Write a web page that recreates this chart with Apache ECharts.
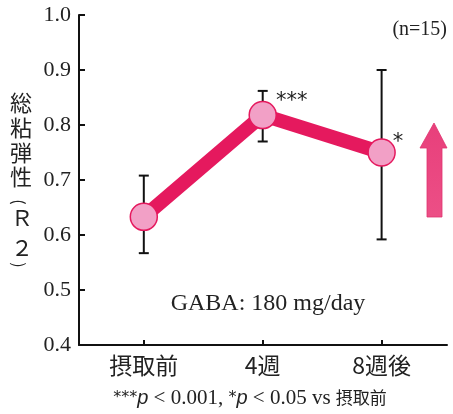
<!DOCTYPE html>
<html><head><meta charset="utf-8">
<script src="https://cdn.jsdelivr.net/npm/echarts@6/dist/echarts.min.js"></script>
<style>html,body{margin:0;padding:0;background:#fff}#c{width:453px;height:414px}</style>
</head><body><div id="c"></div>
<script>
// ---- data ----
const categories = ['摂取前', '4週', '8週後'];
const meanValues = [0.633, 0.818, 0.750];
const errLow = [0.567, 0.770, 0.592];
const errHigh = [0.708, 0.862, 0.900];
const sigMarks = ['', '***', '*'];
const yMin = 0.4, yMax = 1.0, yStep = 0.1;

// ---- styles ----
const LINE_COLOR = '#E5195E';
const FILL_COLOR = '#F2A0C6';
const sigOffsets = [[0, 0], [-1, -14], [-3, -10]];

const chart = echarts.init(document.getElementById('c'), null, {renderer: 'canvas'});

const catIdx = categories.map((_, i) => i);
const lineData = meanValues.map((v, i) => ({
  value: [i, v],
  label: {show: !!sigMarks[i], formatter: sigMarks[i], offset: sigOffsets[i]}
}));
const errData = categories.map((_, i) => [i, errLow[i], errHigh[i]]);

const yNameFont = {fontFamily: 'Noto Sans CJK JP', fontSize: 22, fill: '#222'};
const parenFont = {fontFamily: 'Noto Sans CJK JP', fontSize: 16, fill: '#222'};

const option = {
  animation: false,
  backgroundColor: '#fff',
  grid: {left: 79, right: 6, top: 15, bottom: 69, containLabel: false},
  xAxis: {
    type: 'value', min: -0.545, max: 2.55,
    splitLine: {show: false},
    axisLine: {show: true, onZero: false, lineStyle: {color: '#111', width: 2}},
    axisTick: {show: true, inside: true, length: 5, lineStyle: {color: '#111', width: 2}, customValues: catIdx},
    axisLabel: {
      customValues: catIdx, margin: 9,
      formatter: v => categories[Math.round(v)] || '',
      fontFamily: 'Noto Sans CJK JP', fontSize: 23, color: '#222'
    }
  },
  yAxis: {
    type: 'value', min: yMin, max: yMax, interval: yStep,
    splitLine: {show: false},
    axisLine: {show: true, onZero: false, lineStyle: {color: '#111', width: 2}},
    axisTick: {show: true, inside: true, length: 6, lineStyle: {color: '#111', width: 2}},
    axisLabel: {
      margin: 8, formatter: v => v.toFixed(1),
      fontFamily: 'Liberation Serif', fontSize: 22, color: '#222'
    }
  },
  series: [
    {
      type: 'custom', z: 1,
      data: errData,
      encode: {x: 0, y: [1, 2]},
      renderItem: function (params, api) {
        const x = api.value(0);
        const lo = api.coord([x, api.value(1)]);
        const hi = api.coord([x, api.value(2)]);
        const cap = 5;
        const st = {stroke: '#111', lineWidth: 2};
        return {
          type: 'group',
          children: [
            {type: 'line', shape: {x1: lo[0], y1: lo[1], x2: hi[0], y2: hi[1]}, style: st},
            {type: 'line', shape: {x1: lo[0] - cap, y1: lo[1], x2: lo[0] + cap, y2: lo[1]}, style: st},
            {type: 'line', shape: {x1: hi[0] - cap, y1: hi[1], x2: hi[0] + cap, y2: hi[1]}, style: st}
          ]
        };
      }
    },
    {
      type: 'line', z: 2,
      data: lineData,
      symbol: 'circle', symbolSize: 27,
      lineStyle: {color: LINE_COLOR, width: 14, join: 'round'},
      itemStyle: {color: FILL_COLOR, borderColor: LINE_COLOR, borderWidth: 1.5},
      label: {
        show: false, position: 'right', distance: 0,
        fontFamily: 'DejaVu Sans', fontSize: 21, color: '#222'
      }
    }
  ],
  graphic: [
    {
      type: 'text', x: 21, y: 90.6,
      style: Object.assign({text: '総\n粘\n弾\n性', lineHeight: 24.7, align: 'center', verticalAlign: 'top'}, yNameFont)
    },
    {
      type: 'text', x: 19, y: 202, rotation: -Math.PI / 2,
      style: Object.assign({text: '(', align: 'center', verticalAlign: 'middle'}, parenFont)
    },
    {
      type: 'text', x: 22, y: 217.5,
      style: Object.assign({text: 'Ｒ', align: 'center', verticalAlign: 'middle'}, yNameFont)
    },
    {
      type: 'text', x: 22, y: 248,
      style: Object.assign({text: '２', align: 'center', verticalAlign: 'middle'}, yNameFont)
    },
    {
      type: 'text', x: 19, y: 265, rotation: -Math.PI / 2,
      style: Object.assign({text: ')', align: 'center', verticalAlign: 'middle'}, parenFont)
    },
    {
      type: 'text', x: 447, y: 30,
      style: {text: '(n=15)', fontFamily: 'Liberation Serif', fontSize: 20,
        fill: '#222', align: 'right', verticalAlign: 'middle'}
    },
    {
      type: 'text', x: 268, y: 303.5,
      style: {text: 'GABA: 180 mg/day', fontFamily: 'Liberation Serif', fontSize: 24,
        fill: '#222', align: 'center', verticalAlign: 'middle'}
    },
    {
      type: 'text', x: 250, y: 398,
      style: {
        text: '{s|***}{i|p}{n| < 0.001, }{s|*}{i|p}{n| < 0.05 vs }{j|摂取前}',
        align: 'center', verticalAlign: 'middle',
        rich: {
          s: {fontFamily: 'DejaVu Sans', fontSize: 16, fill: '#222'},
          i: {fontFamily: 'Liberation Sans', fontStyle: 'italic', fontSize: 20, fill: '#222'},
          n: {fontFamily: 'Liberation Serif', fontSize: 21, fill: '#222'},
          j: {fontFamily: 'Noto Sans CJK JP', fontSize: 17, fill: '#222'}
        }
      }
    },
    {
      type: 'polygon',
      shape: {points: [[434, 123], [447, 148], [442, 148], [442, 217], [427, 217], [427, 148], [420, 148]]},
      style: {
        fill: new echarts.graphic.LinearGradient(0, 0, 0, 1, [
          {offset: 0, color: '#E83F7B'}, {offset: 1, color: '#EC4F86'}
        ]),
        stroke: '#E03370', lineWidth: 0.8
      }
    }
  ]
};
chart.setOption(option);
</script>
</body></html>
